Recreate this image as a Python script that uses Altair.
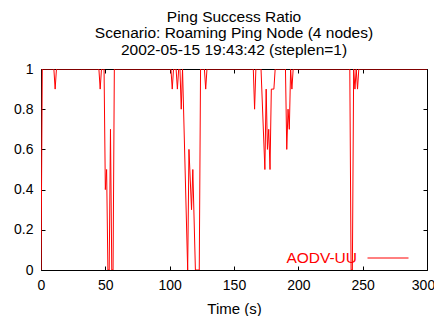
import altair as alt
import pandas as pd

# Ping success ratio breakpoints (time in s, ratio); value is 1 between listed points
times = [0, 1, 10, 11, 12,
         45, 46, 47, 49, 50, 51, 52, 53, 54, 55, 56, 57,
         101, 102, 103, 105, 106, 107, 108, 109, 110, 114, 115, 117, 118, 120, 123, 124,
         127, 128, 129,
         165, 166, 167,
         171, 174, 175, 176, 177, 178, 179, 181, 182,
         190, 191, 192, 193, 194, 195, 196,
         240, 241, 242, 243, 244, 245, 246, 247,
         300]
ratios = [0, 1, 1, 0.9, 1,
          1, 0.9, 1, 1, 0.4, 0.5, 0, 0, 0.7, 0, 0, 1,
          1, 0.9, 1, 1, 0.9, 1, 1, 0.8, 1, 0, 0.6, 0.3, 0.5, 0, 0, 1,
          1, 0.9, 1,
          1, 0.8, 1,
          1, 0.5, 0.9, 0.6, 0.7, 0.5, 0.9, 0.9, 1,
          1, 0.6, 0.8, 0.7, 1, 0.9, 1,
          1, 0, 0, 1, 0.9, 1, 0.9, 1,
          1]
series_name = "AODV-UU"
x_ticks = [0, 50, 100, 150, 200, 250, 300]
y_ticks = [0, 0.2, 0.4, 0.6, 0.8, 1]
title_lines = ["Ping Success Ratio",
               "Scenario: Roaming Ping Node (4 nodes)",
               "2002-05-15 19:43:42 (steplen=1)"]

df = pd.DataFrame({"t": times, "ratio": ratios, "series": [series_name] * len(times)})

FONT = "Liberation Sans"
xscale = alt.Scale(domain=[0, 300], nice=False, zero=False)
yscale = alt.Scale(domain=[0, 1], nice=False)

base = alt.Chart(df)

main = base.mark_line(strokeWidth=1, clip=True).encode(
    x=alt.X("t:Q", scale=xscale,
            axis=alt.Axis(values=x_ticks, ticks=False, domain=False, grid=False,
                          labelFlush=False, labelPadding=8, labelFontSize=14,
                          labelOffset={"condition": {"test": "datum.value == 300", "value": -4},
                                       "value": 0},
                          labelFont=FONT, labelColor="black", title="Time (s)",
                          titleFontSize=15, titleFont=FONT, titleFontWeight="normal",
                          titlePadding=9, titleColor="black")),
    y=alt.Y("ratio:Q", scale=yscale,
            axis=alt.Axis(values=y_ticks, ticks=False, domain=False, grid=False,
                          format="~g", labelPadding=8, labelFontSize=14,
                          labelFont=FONT, labelColor="black", title=None)),
    color=alt.Color("series:N",
                    scale=alt.Scale(domain=[series_name], range=["#ff0000"]),
                    legend=alt.Legend(orient="none", legendX=326, legendY=168,
                                      title=None, symbolType="stroke",
                                      symbolSize=1681, symbolStrokeWidth=1,
                                      labelAlign="right", labelOffset={"expr": "-52"},
                                      labelFontSize=15.5, labelFont=FONT,
                                      labelColor="#ff0000", padding=0)),
)

ticks_bl = base.mark_line(strokeOpacity=0).encode(
    x=alt.X("t:Q", scale=xscale,
            axis=alt.Axis(values=x_ticks, orient="bottom", offset=-4, labels=False,
                          domain=False, grid=False, ticks=True, tickSize=4,
                          tickColor="black", title=None)),
    y=alt.Y("ratio:Q", scale=yscale,
            axis=alt.Axis(values=y_ticks, orient="left", offset=-4, labels=False,
                          domain=False, grid=False, ticks=True, tickSize=4,
                          tickColor="black", title=None)),
)

ticks_tr = base.mark_line(strokeOpacity=0).encode(
    x=alt.X("t:Q", scale=xscale,
            axis=alt.Axis(values=x_ticks, orient="top", offset=-4, labels=False,
                          domain=False, grid=False, ticks=True, tickSize=4,
                          tickColor="black", title=None)),
    y=alt.Y("ratio:Q", scale=yscale,
            axis=alt.Axis(values=y_ticks, orient="right", offset=-4, labels=False,
                          domain=False, grid=False, ticks=True, tickSize=4,
                          tickColor="black", title=None)),
)

chart = alt.layer(main, ticks_bl, ticks_tr).resolve_axis(
    x="independent", y="independent"
).properties(
    width=386, height=201,
    autosize=alt.AutoSizeParams(type="none"),
    padding={"left": 33, "top": 61, "right": 7, "bottom": 46},
    title=alt.TitleParams(text=title_lines, fontSize=15.5, fontWeight="normal",
                          font=FONT, color="black", lineHeight=16.5,
                          anchor="middle", offset=4),
).configure_view(stroke="black", strokeWidth=1)

chart.save("out.html", embed_options={"renderer": "svg", "actions": False})
